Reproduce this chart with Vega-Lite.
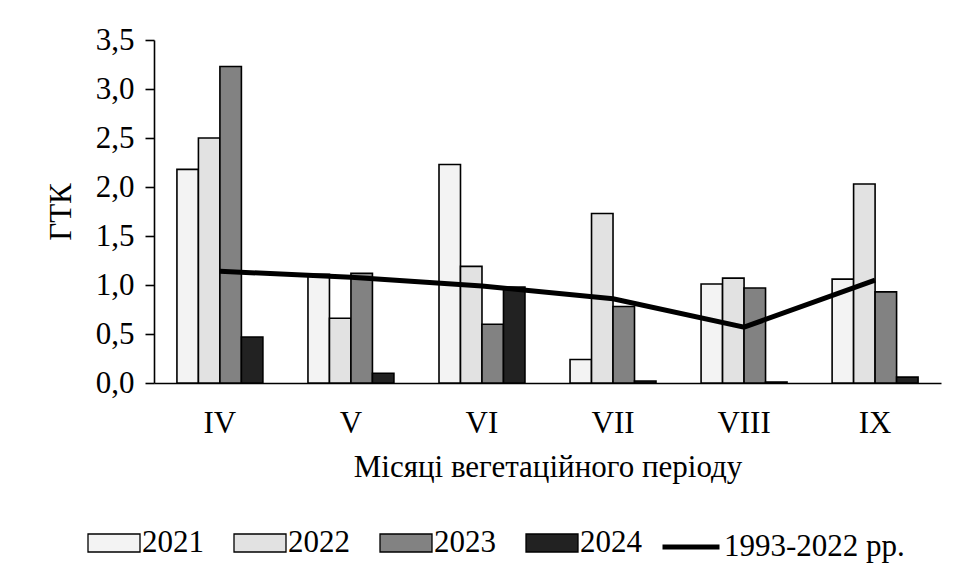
{
  "$schema": "https://vega.github.io/schema/vega-lite/v6.json",
  "width": 787,
  "height": 343,
  "autosize": {"type": "none"},
  "padding": {"left": 154, "top": 40, "right": 19, "bottom": 196},
  "background": "white",
  "config": {
    "font": "Liberation Serif",
    "view": {"stroke": null},
    "axis": {"labelFont": "Liberation Serif", "titleFont": "Liberation Serif", "labelColor": "black", "titleColor": "black", "domainColor": "black", "tickColor": "black", "titleFontWeight": "normal"},
    "legend": {"labelFont": "Liberation Serif", "labelColor": "black", "padding": 0, "labelLimit": 400}
  },
  "datasets": {
    "bars": [
      {"month": "IV", "year": "2021", "value": 2.18},
      {"month": "IV", "year": "2022", "value": 2.50},
      {"month": "IV", "year": "2023", "value": 3.23},
      {"month": "IV", "year": "2024", "value": 0.47},
      {"month": "V", "year": "2021", "value": 1.11},
      {"month": "V", "year": "2022", "value": 0.66},
      {"month": "V", "year": "2023", "value": 1.12},
      {"month": "V", "year": "2024", "value": 0.10},
      {"month": "VI", "year": "2021", "value": 2.23},
      {"month": "VI", "year": "2022", "value": 1.19},
      {"month": "VI", "year": "2023", "value": 0.60},
      {"month": "VI", "year": "2024", "value": 0.98},
      {"month": "VII", "year": "2021", "value": 0.24},
      {"month": "VII", "year": "2022", "value": 1.73},
      {"month": "VII", "year": "2023", "value": 0.78},
      {"month": "VII", "year": "2024", "value": 0.02},
      {"month": "VIII", "year": "2021", "value": 1.01},
      {"month": "VIII", "year": "2022", "value": 1.07},
      {"month": "VIII", "year": "2023", "value": 0.97},
      {"month": "VIII", "year": "2024", "value": 0.01},
      {"month": "IX", "year": "2021", "value": 1.06},
      {"month": "IX", "year": "2022", "value": 2.03},
      {"month": "IX", "year": "2023", "value": 0.93},
      {"month": "IX", "year": "2024", "value": 0.06}
    ],
    "norm": [
      {"month": "IV", "series": "1993-2022 рр.", "value": 1.14},
      {"month": "V", "series": "1993-2022 рр.", "value": 1.08},
      {"month": "VI", "series": "1993-2022 рр.", "value": 0.99},
      {"month": "VII", "series": "1993-2022 рр.", "value": 0.86},
      {"month": "VIII", "series": "1993-2022 рр.", "value": 0.57},
      {"month": "IX", "series": "1993-2022 рр.", "value": 1.05}
    ]
  },
  "layer": [
    {
      "data": {"name": "bars"},
      "mark": {"type": "bar", "stroke": "black", "strokeWidth": 1.6, "cornerRadius": 0},
      "encoding": {
        "x": {
          "field": "month", "type": "nominal",
          "sort": ["IV", "V", "VI", "VII", "VIII", "IX"],
          "scale": {"paddingInner": 0.344, "paddingOuter": 0.175},
          "axis": {"title": "Місяці вегетаційного періоду", "labelAngle": 0, "labelFontSize": 31, "titleFontSize": 31, "ticks": false, "labelPadding": 25, "titlePadding": 14, "domainWidth": 1.6}
        },
        "xOffset": {"field": "year", "type": "nominal", "sort": ["2021", "2022", "2023", "2024"], "scale": {"paddingInner": 0, "paddingOuter": 0}},
        "y": {
          "field": "value", "type": "quantitative",
          "scale": {"domain": [0, 3.5], "nice": false},
          "axis": {"title": "ГТК", "titleColor": "#000000", "values": [0, 0.5, 1, 1.5, 2, 2.5, 3, 3.5], "labelExpr": "replace(format(datum.value, '.1f'), '.', ',')", "grid": false, "labelFontSize": 31, "titleFontSize": 31, "tickSize": 9, "labelPadding": 11, "titlePadding": 18, "domainWidth": 1.6, "tickWidth": 1.6}
        },
        "fill": {
          "field": "year", "type": "nominal",
          "scale": {"domain": ["2021", "2022", "2023", "2024"], "range": ["#f3f3f3", "#e2e2e2", "#828282", "#222222"]},
          "legend": {"title": null, "orient": "none", "legendX": -67, "legendY": 476, "direction": "horizontal", "labelFontSize": 31, "symbolType": "M-1,-0.346H1V0.346H-1Z", "symbolSize": 2704, "symbolStrokeColor": "black", "symbolStrokeWidth": 1.3, "labelOffset": 1, "columnPadding": 27}
        }
      }
    },
    {
      "data": {"name": "norm"},
      "mark": {"type": "line", "strokeWidth": 5},
      "encoding": {
        "x": {"field": "month", "type": "nominal", "sort": ["IV", "V", "VI", "VII", "VIII", "IX"]},
        "y": {"field": "value", "type": "quantitative"},
        "stroke": {
          "field": "series", "type": "nominal",
          "scale": {"range": ["black"]},
          "legend": {"title": null, "orient": "none", "legendX": 506, "legendY": 476, "labelFontSize": 31, "symbolType": "stroke", "symbolSize": 3249, "symbolStrokeWidth": 5, "labelOffset": 2, "labelLimit": 400}
        }
      }
    }
  ],
  "resolve": {"legend": {"fill": "independent", "stroke": "independent"}}
}
